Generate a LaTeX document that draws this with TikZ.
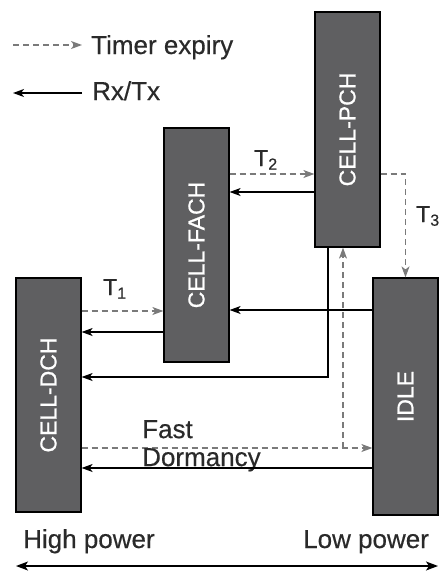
\documentclass[tikz,border=0pt]{standalone}
\usepackage{fontspec}
\setmainfont{Liberation Sans}
\newfontface\medfont{Liberation Sans}[FakeBold=0.8]
\newfontface\lblfont{Liberation Sans}[FakeBold=0.4]
\usetikzlibrary{arrows.meta}
\definecolor{boxfill}{HTML}{5F5F61}
\definecolor{dashgray}{HTML}{7A7A7A}
\definecolor{txt}{HTML}{2A2A2A}
\begin{document}
\begin{tikzpicture}[x=1pt,y=-1pt,
  statebox/.style={draw=black, line width=1.2pt, fill=boxfill, inner sep=0pt, minimum width=65pt},
  boxtxt/.style={rotate=90, text=white, font=\medfont\fontsize{23}{26}\selectfont, inner sep=0pt},
  lbl/.style={text=txt, font=\lblfont\fontsize{26}{28}\selectfont, inner sep=0pt},
  tlbl/.style={text=txt, font=\lblfont\fontsize{23}{26}\selectfont, inner sep=0pt, anchor=base west},
  rxtx/.style={draw=black, line width=1.3pt, -{Stealth[length=11pt,width=8pt,inset=3pt]}},
  timer/.style={draw=dashgray, line width=1.3pt, dash pattern=on 6pt off 4pt, -{Stealth[length=11pt,width=8pt,inset=3pt]}},
  powerrange/.style={draw=black, line width=1.3pt, {Stealth[length=12pt,width=9pt,inset=3pt]}-{Stealth[length=12pt,width=9pt,inset=3pt]}}
]
\useasboundingbox (0,0) rectangle (440,574);

% state boxes
\node[statebox, minimum height=235pt] (pch) at (347.5,129.5) {};
\node[statebox, minimum height=234pt] (fach) at (196.5,245) {};
\node[statebox, minimum height=234pt] (dch) at (48.5,395) {};
\node[statebox, minimum height=237pt] (idle) at (405.5,396.5) {};
\node[boxtxt] (pchtxt) at (pch) {CELL-PCH};
\node[boxtxt] (fachtxt) at (fach) {CELL-FACH};
\node[boxtxt] (dchtxt) at (dch) {CELL-DCH};
\node[boxtxt] (idletxt) at (idle) {IDLE};

% legend
\coordinate (lg1a) at (13,45);
\coordinate (lg1b) at (82,45);
\coordinate (lg2a) at (82,93);
\coordinate (lg2b) at (13,93);
\draw[timer] (lg1a) -- (lg1b);
\draw[rxtx] (lg2a) -- (lg2b);
\node[lbl, anchor=base west] (timertxt) at (91,54) {Timer expiry};
\node[lbl, anchor=base west] (rxtxtxt) at (92,100) {Rx/Tx};

% FACH <-> PCH
\draw[timer] (fach.east |- 0,174) -- (pch.west |- 0,174);
\draw[rxtx] (pch.west |- 0,192) -- (fach.east |- 0,192);
\node[tlbl] (t2) at (254,166) {T\textsubscript{2}};

% PCH -> IDLE (T3)
\draw[timer] (pch.east |- 0,174) -| (idle.north);
\node[tlbl] (t3) at (416,222) {T\textsubscript{3}};

% DCH <-> FACH
\draw[timer] (dch.east |- 0,311) -- (fach.west |- 0,311);
\draw[rxtx] (fach.west |- 0,332) -- (dch.east |- 0,332);
\node[tlbl] (t1) at (103,295) {T\textsubscript{1}};

% IDLE -> FACH
\draw[rxtx] (idle.west |- 0,310) -- (fach.east |- 0,310);

% PCH -> DCH
\draw[rxtx] (pch.south -| 328,0) |- (dch.east |- 0,377);

% Fast dormancy
\coordinate (fd) at (343,448);
\draw[timer] (dch.east |- fd) -- (idle.west |- fd);
\draw[timer] (fd) -- (pch.south -| fd);
\node[lbl, anchor=north west, align=left] (fdtxt) at (142,420) {Fast\\Dormancy};

% IDLE -> DCH
\draw[rxtx] (idle.west |- 0,468) -- (dch.east |- 0,468);

% power range
\node[lbl, anchor=base west] (hp) at (23,548) {High power};
\node[lbl, anchor=base west] (lp) at (303,548) {Low power};
\coordinate (ra) at (16,566);
\coordinate (rb) at (438,566);
\draw[powerrange] (ra) -- (rb);
\end{tikzpicture}
\end{document}
